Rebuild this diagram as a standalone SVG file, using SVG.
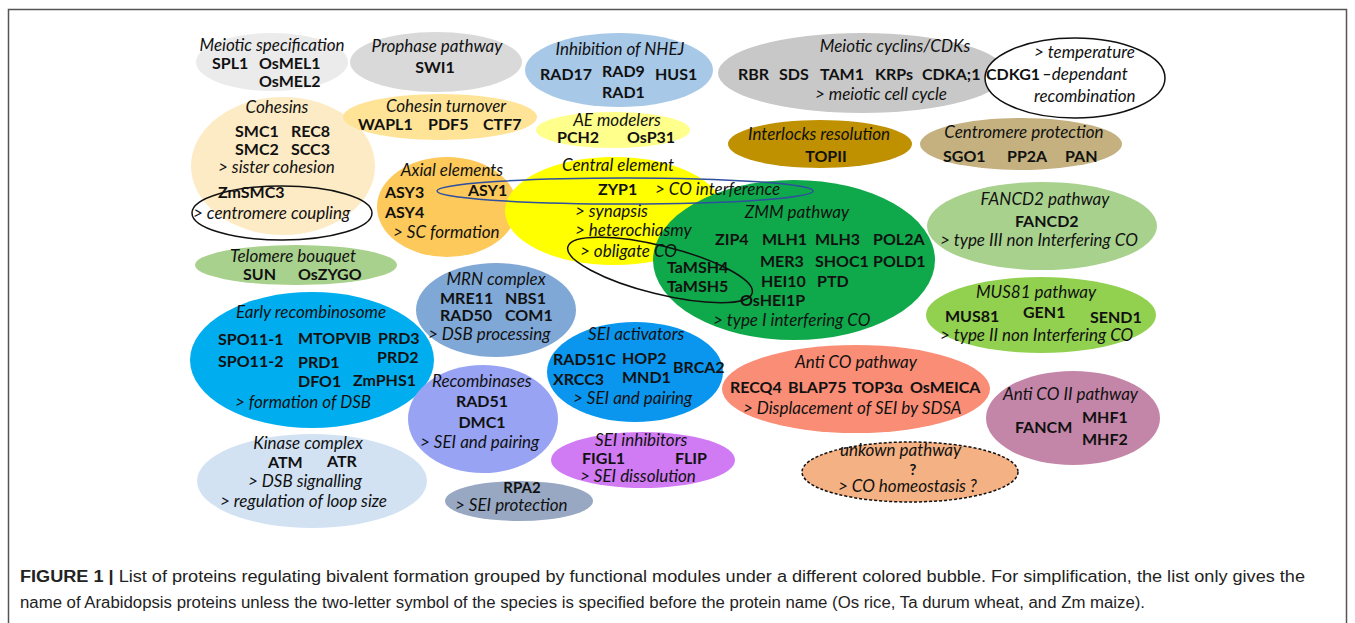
<svg xmlns="http://www.w3.org/2000/svg" width="1355" height="623" viewBox="0 0 1355 623">
<style>
.i{font-family:Lato,"Open Sans",sans-serif;font-style:italic;font-size:17px;fill:#111}
.b{font-family:Lato,"Open Sans",sans-serif;font-weight:700;font-size:16px;fill:#111}
.s{font-size:15px}
.m{text-anchor:middle}
.ol{fill:none;stroke:#111;stroke-width:1.5}
.cap{font-family:"Liberation Sans",Arial,sans-serif;font-size:16px;fill:#222}
</style>
<rect x="8.5" y="9.5" width="1338" height="640" fill="#fff" stroke="#555" stroke-width="1.5"/>

<g id="meiotic-specification">
<ellipse cx="272" cy="62" rx="76" ry="29" fill="#ebebeb"/>
<text class="i m" x="272" y="51">Meiotic specification</text>
<text class="b" x="212" y="69">SPL1</text><text class="b" x="259" y="69">OsMEL1</text><text class="b" x="259" y="87">OsMEL2</text>
</g>
<g id="prophase-pathway">
<ellipse cx="436" cy="62" rx="86" ry="30" fill="#d9d9d9"/>
<text class="i m" x="437" y="52">Prophase pathway</text>
<text class="b m" x="435" y="73">SWI1</text>
</g>
<g id="inhibition-nhej">
<ellipse cx="619" cy="70" rx="94" ry="37" fill="#a8c8e8"/>
<text class="i m" x="620" y="55">Inhibition of NHEJ</text>
<text class="b" x="540" y="80">RAD17</text><text class="b" x="602" y="77">RAD9</text><text class="b" x="655" y="80">HUS1</text><text class="b" x="602" y="98">RAD1</text>
</g>
<g id="meiotic-cyclins">
<ellipse cx="862" cy="73" rx="144" ry="40" fill="#c8c8c8"/>
<text class="i m" x="895" y="52">Meiotic cyclins/CDKs</text>
<text class="b" x="738" y="80">RBR</text><text class="b" x="779" y="80">SDS</text><text class="b" x="820" y="80">TAM1</text><text class="b" x="875" y="80">KRPs</text><text class="b" x="922" y="80">CDKA;1</text>
<text class="i" x="815" y="100">&gt; meiotic cell cycle</text>
</g>
<g id="temperature-recombination">
<ellipse cx="1075" cy="78" rx="90" ry="40" fill="#fff" stroke="#111" stroke-width="1.5"/>
<text class="b" x="986" y="80">CDKG1</text>
<text class="i" x="1034" y="58">&gt; temperature</text>
<text class="i" x="1042" y="80">–dependant</text>
<text class="i" x="1034" y="102">recombination</text>
</g>
<g id="cohesins">
<ellipse cx="283" cy="166" rx="92" ry="69" fill="#fdebc5"/>
<text class="i m" x="277" y="113">Cohesins</text>
<text class="b" x="235" y="137">SMC1</text><text class="b" x="291" y="137">REC8</text>
<text class="b" x="235" y="155">SMC2</text><text class="b" x="291" y="155">SCC3</text>
<text class="i" x="218" y="173">&gt; sister cohesion</text>
</g>
<g id="centromere-coupling">
<ellipse class="ol" cx="282" cy="213" rx="90" ry="27"/>
<text class="b" x="218" y="198">ZmSMC3</text>
<text class="i" x="193" y="219">&gt; centromere coupling</text>
</g>
<g id="cohesin-turnover">
<ellipse cx="440" cy="117" rx="97" ry="23" fill="#ffe497"/>
<text class="i m" x="446" y="112">Cohesin turnover</text>
<text class="b" x="358" y="130">WAPL1</text><text class="b" x="428" y="130">PDF5</text><text class="b" x="483" y="130">CTF7</text>
</g>
<g id="ae-modelers">
<ellipse cx="613" cy="130" rx="77" ry="18" fill="#ffff8c"/>
<text class="i m" x="617" y="126">AE modelers</text>
<text class="b" x="557" y="143">PCH2</text><text class="b" x="627" y="143">OsP31</text>
</g>
<g id="interlocks-resolution">
<ellipse cx="820" cy="144" rx="92" ry="24" fill="#bf9000"/>
<text class="i m" x="819" y="140">Interlocks resolution</text>
<text class="b m" x="826" y="162">TOPII</text>
</g>
<g id="centromere-protection">
<ellipse cx="1021" cy="144" rx="101" ry="26" fill="#c4b17f"/>
<text class="i m" x="1024" y="138">Centromere protection</text>
<text class="b" x="943" y="162">SGO1</text><text class="b" x="1007" y="162">PP2A</text><text class="b" x="1065" y="162">PAN</text>
</g>
<g id="axial-elements">
<ellipse cx="447" cy="207" rx="70" ry="50" fill="#fcc95a"/>
<text class="i m" x="452" y="176">Axial elements</text>
<text class="b" x="385" y="198">ASY3</text><text class="b" x="385" y="218">ASY4</text>
<text class="i" x="393" y="238">&gt; SC formation</text>
</g>
<g id="central-element">
<ellipse cx="614" cy="211" rx="109" ry="54" fill="#ffff00"/>
</g>
<g id="zmm-pathway">
<ellipse cx="794" cy="260" rx="141" ry="80" fill="#0fa94b"/>
<text class="i m" x="797" y="218">ZMM pathway</text>
<text class="b" x="715" y="245">ZIP4</text><text class="b" x="762" y="245">MLH1</text><text class="b" x="815" y="245">MLH3</text><text class="b" x="873" y="245">POL2A</text>
<text class="b" x="760" y="267">MER3</text><text class="b" x="815" y="267">SHOC1</text><text class="b" x="873" y="267">POLD1</text>
<text class="b" x="761" y="287">HEI10</text><text class="b" x="817" y="287">PTD</text>
<text class="b" x="740" y="306">OsHEI1P</text>
<text class="i" x="713" y="326">&gt; type I interfering CO</text>
</g>
<g id="central-element-labels">
<text class="i m" x="618" y="171">Central element</text>
<text class="i" x="575" y="217">&gt; synapsis</text>
<text class="i" x="575" y="236">&gt; heterochiasmy</text>
<text class="i" x="580" y="257">&gt; obligate CO</text>
</g>
<g id="co-interference">
<ellipse cx="625" cy="191" rx="188" ry="13" fill="none" stroke="#2f4f9f" stroke-width="1.5"/>
<text class="b" x="468" y="196">ASY1</text>
<text class="b" x="598" y="195">ZYP1</text>
<text class="i" x="655" y="195">&gt; CO interference</text>
</g>
<g id="obligate-co">
<ellipse class="ol" cx="660" cy="270" rx="95" ry="24" transform="rotate(14 660 270)"/>
<text class="b" x="667" y="273">TaMSH4</text><text class="b" x="667" y="292">TaMSH5</text>
</g>
<g id="telomere-bouquet">
<ellipse cx="296" cy="265" rx="101" ry="20" fill="#a9d18e"/>
<text class="i m" x="293" y="262">Telomere bouquet</text>
<text class="b" x="243" y="280">SUN</text><text class="b" x="298" y="280">OsZYGO</text>
</g>
<g id="mrn-complex">
<ellipse cx="496" cy="310" rx="80" ry="47" fill="#80a8d6"/>
<text class="i m" x="496" y="285">MRN complex</text>
<text class="b" x="440" y="304">MRE11</text><text class="b" x="505" y="304">NBS1</text>
<text class="b" x="440" y="321">RAD50</text><text class="b" x="505" y="321">COM1</text>
<text class="i" x="428" y="340">&gt; DSB processing</text>
</g>
<g id="early-recombinosome">
<ellipse cx="312" cy="360" rx="122" ry="68" fill="#00aeef"/>
<text class="i m" x="311" y="318">Early recombinosome</text>
<text class="b" x="218" y="345">SPO11-1</text><text class="b" x="298" y="344">MTOPVIB</text><text class="b" x="378" y="344">PRD3</text>
<text class="b" x="218" y="367">SPO11-2</text><text class="b" x="298" y="368">PRD1</text><text class="b" x="377" y="363">PRD2</text>
<text class="b" x="298" y="387">DFO1</text><text class="b" x="353" y="386">ZmPHS1</text>
<text class="i" x="235" y="408">&gt; formation of DSB</text>
</g>
<g id="kinase-complex">
<ellipse cx="312" cy="481" rx="115" ry="47" fill="#d2e2f3"/>
<text class="i m" x="308" y="449">Kinase complex</text>
<text class="b" x="268" y="468">ATM</text><text class="b" x="327" y="467">ATR</text>
<text class="i" x="248" y="487">&gt; DSB signalling</text>
<text class="i" x="220" y="507">&gt; regulation of loop size</text>
</g>
<g id="recombinases">
<ellipse cx="483" cy="419" rx="75" ry="54" fill="#98a4f3"/>
<text class="i" x="432" y="387">Recombinases</text>
<text class="b m" x="482" y="407">RAD51</text><text class="b m" x="482" y="428">DMC1</text>
<text class="i" x="420" y="448">&gt; SEI and pairing</text>
</g>
<g id="rpa2">
<ellipse cx="519" cy="501" rx="74" ry="20" fill="#98a8c2"/>
<text class="b s m" x="522" y="493">RPA2</text>
<text class="i" x="455" y="511">&gt; SEI protection</text>
</g>
<g id="sei-activators">
<ellipse cx="635" cy="372" rx="88" ry="50" fill="#0a96ee"/>
<text class="i" x="588" y="340">SEI activators</text>
<text class="b" x="553" y="365">RAD51C</text><text class="b" x="622" y="364">HOP2</text><text class="b" x="673" y="373">BRCA2</text>
<text class="b" x="553" y="385">XRCC3</text><text class="b" x="622" y="383">MND1</text>
<text class="i" x="573" y="404">&gt; SEI and pairing</text>
</g>
<g id="sei-inhibitors">
<ellipse cx="643" cy="460" rx="92" ry="28" fill="#d07af3"/>
<text class="i" x="595" y="446">SEI inhibitors</text>
<text class="b" x="582" y="464">FIGL1</text><text class="b" x="675" y="464">FLIP</text>
<text class="i" x="580" y="482">&gt; SEI dissolution</text>
</g>
<g id="anti-co-pathway">
<ellipse cx="856" cy="389" rx="134" ry="44" fill="#fa8d76"/>
<text class="i m" x="856" y="368">Anti CO pathway</text>
<text class="b" x="730" y="393">RECQ4</text><text class="b" x="788" y="393">BLAP75</text><text class="b" x="852" y="393">TOP3α</text><text class="b" x="910" y="393">OsMEICA</text>
<text class="i" x="743" y="414">&gt; Displacement of SEI by SDSA</text>
</g>
<g id="anti-co-ii-pathway">
<ellipse cx="1073" cy="418" rx="87" ry="47" fill="#c486a8"/>
<text class="i" x="1003" y="400">Anti CO II pathway</text>
<text class="b" x="1015" y="433">FANCM</text><text class="b" x="1082" y="423">MHF1</text><text class="b" x="1082" y="445">MHF2</text>
</g>
<g id="unknown-pathway">
<ellipse cx="910" cy="472" rx="108" ry="30" fill="#f4b183" stroke="#111" stroke-width="1.5" stroke-dasharray="3 2"/>
<text class="i" x="840" y="456">unkown pathway</text>
<text class="b s m" x="913" y="475">?</text>
<text class="i" x="838" y="492">&gt; CO homeostasis ?</text>
</g>
<g id="fancd2-pathway">
<ellipse cx="1042" cy="226" rx="115" ry="44" fill="#a9d18e"/>
<text class="i m" x="1045" y="205">FANCD2 pathway</text>
<text class="b" x="1015" y="227">FANCD2</text>
<text class="i" x="940" y="246">&gt; type III non Interfering CO</text>
</g>
<g id="mus81-pathway">
<ellipse cx="1041" cy="315" rx="115" ry="38" fill="#92d050"/>
<text class="i m" x="1036" y="298">MUS81 pathway</text>
<text class="b" x="945" y="322">MUS81</text><text class="b" x="1023" y="318">GEN1</text><text class="b" x="1090" y="323">SEND1</text>
<text class="i" x="940" y="341">&gt; type II non Interfering CO</text>
</g>
<g id="connectors"></g>

<text class="cap" x="20" y="582" textLength="1285" lengthAdjust="spacingAndGlyphs"><tspan font-weight="700">FIGURE 1 |</tspan> List of proteins regulating bivalent formation grouped by functional modules under a different colored bubble. For simplification, the list only gives the</text>
<text class="cap" x="20" y="608" textLength="1125" lengthAdjust="spacingAndGlyphs">name of Arabidopsis proteins unless the two-letter symbol of the species is specified before the protein name (Os rice, Ta durum wheat, and Zm maize).</text>
</svg>
